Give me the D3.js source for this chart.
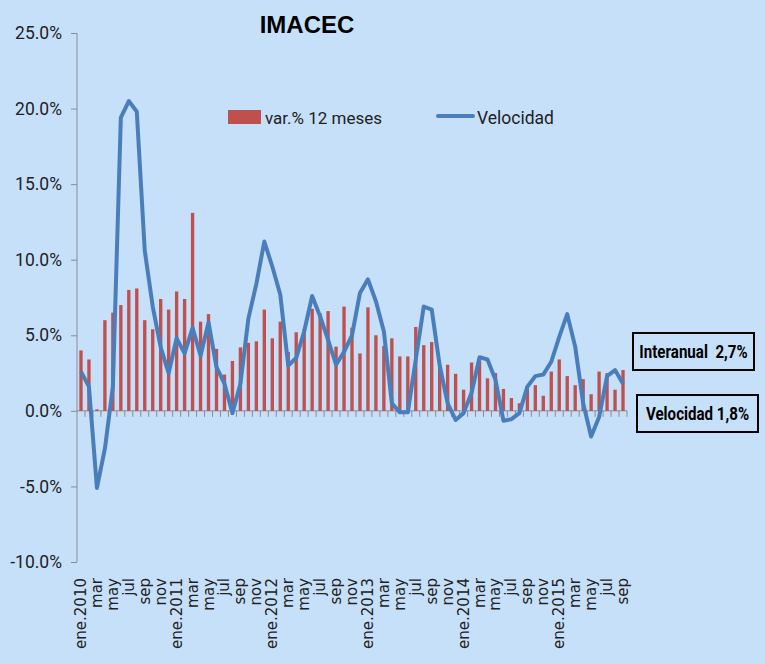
<!DOCTYPE html>
<html>
<head>
<meta charset="utf-8">
<script src="https://cdn.jsdelivr.net/npm/d3@7"></script>
<style>
  body { margin: 0; background: #c6e0fa; }
  .narrow { font-family: Roboto, 'Liberation Sans', sans-serif; }
  .pre { white-space: pre; }
</style>
</head>
<body>
<div id="chart"></div>
<script>
const monthNames = ['ene', 'feb', 'mar', 'abr', 'may', 'jun', 'jul', 'ago', 'sep', 'oct', 'nov', 'dic'];
const years = [2010, 2011, 2012, 2013, 2014, 2015];
const lastMonths = 9; // 2015 ends in sep

// var.% 12 meses
const varAnual = [
  4.0, 3.4, 0.1, 6.0, 6.5, 7.0, 8.0, 8.1, 6.0, 5.4, 7.4, 6.7,
  7.9, 7.4, 13.1, 5.9, 6.4, 4.1, 2.4, 3.3, 4.2, 4.5, 4.6, 6.7,
  4.8, 5.9, 3.9, 5.2, 5.4, 6.75, 6.45, 6.6, 4.25, 6.9, 5.5, 3.8,
  6.85, 5.0, 4.3, 4.8, 3.6, 3.6, 5.55, 4.35, 4.55, 2.85, 3.05, 2.45,
  1.4, 3.2, 3.35, 2.15, 2.5, 1.45, 0.85, 0.5, 1.45, 1.7, 1.0, 2.6,
  3.4, 2.3, 1.7, 2.1, 1.1, 2.6, 2.5, 1.4, 2.7
];

// Velocidad
const velocidad = [
  2.6, 1.6, -5.1, -2.5, 1.6, 19.4, 20.5, 19.8, 10.6, 6.9, 4.2, 2.5,
  4.8, 3.8, 5.5, 3.65, 5.85, 2.9, 1.8, -0.15, 1.8, 6.1, 8.4, 11.2,
  9.55, 7.7, 3.0, 3.5, 5.25, 7.6, 6.25, 4.7, 3.05, 3.9, 5.0, 7.8,
  8.7, 7.25, 5.25, 0.5, -0.1, -0.1, 3.4, 6.9, 6.7, 3.0, 0.5, -0.6,
  -0.15, 1.2, 3.55, 3.4, 2.05, -0.65, -0.55, -0.15, 1.6, 2.3, 2.4, 3.25,
  4.9, 6.4, 4.25, 0.5, -1.7, -0.4, 2.3, 2.7, 1.8
];

const yTicks = [-10, -5, 0, 5, 10, 15, 20, 25];
const boxTexts = ['Interanual  2,7%', 'Velocidad 1,8%'];

const categories = [];
years.forEach(function (yr, k) {
  const n = k === years.length - 1 ? lastMonths : 12;
  for (let m = 0; m < n; m++) {
    categories.push({ key: `${monthNames[m]}.${yr}`, month: m, year: yr });
  }
});

function tickLabel(c) {
  return c.month === 0 ? `ene.${c.year}` : monthNames[c.month];
}

const W = 765;
const H = 664;
const margin = { left: 77, right: 138, top: 33, bottom: 102 };

const svg = d3
  .select('#chart')
  .append('svg')
  .attr('width', W)
  .attr('height', H)
  .style('display', 'block');

svg.append('rect').attr('width', W).attr('height', H).attr('fill', '#c6e0fa');

const x = d3
  .scaleBand()
  .domain(categories.map(function (d) { return d.key; }))
  .range([margin.left, W - margin.right]);

const y = d3.scaleLinear().domain([-10, 25]).range([H - margin.bottom, margin.top]);

const axisColor = '#8c8c8c';

// y axis
const yAxis = svg
  .append('g')
  .attr('transform', `translate(${margin.left},0)`)
  .call(
    d3
      .axisLeft(y)
      .tickValues(yTicks)
      .tickSize(6)
      .tickSizeOuter(0)
      .tickPadding(9)
      .tickFormat(function (d) { return d.toFixed(1) + '%'; })
  );
yAxis.selectAll('path, line').attr('stroke', axisColor);
yAxis
  .selectAll('text')
  .attr('class', 'narrow')
  .attr('font-size', 17.5)
  .attr('fill', '#222');
yAxis.select('.domain').attr('d', `M0,${y(25)}V${y(-10)}`);

// x axis at zero, ticks on category boundaries
const y0 = y(0);
const xg = svg.append('g');
xg.append('line')
  .attr('x1', x.range()[0])
  .attr('x2', x.range()[1])
  .attr('y1', y0)
  .attr('y2', y0)
  .attr('stroke', axisColor)
  .attr('stroke-width', 1);
xg.selectAll('.xtick')
  .data(categories)
  .enter()
  .append('line')
  .attr('class', 'xtick')
  .attr('x1', function (d) { return x(d.key) + x.bandwidth(); })
  .attr('x2', function (d) { return x(d.key) + x.bandwidth(); })
  .attr('y1', y0)
  .attr('y2', y0 + 6)
  .attr('stroke', axisColor);

// bars
const barW = x.bandwidth() * 0.42;
svg
  .append('g')
  .selectAll('rect')
  .data(varAnual)
  .enter()
  .append('rect')
  .attr('x', function (d, i) { return x(categories[i].key) + (x.bandwidth() - barW) / 2; })
  .attr('y', function (d) { return y(Math.max(d, 0)); })
  .attr('width', barW)
  .attr('height', function (d) { return Math.abs(y(d) - y0); })
  .attr('fill', '#c0504d');

// velocidad line
const line = d3
  .line()
  .x(function (d, i) { return x(categories[i].key) + x.bandwidth() / 2; })
  .y(function (d) { return y(d); });

svg
  .append('path')
  .datum(velocidad)
  .attr('fill', 'none')
  .attr('stroke', '#4a7ebb')
  .attr('stroke-width', 4)
  .attr('stroke-linejoin', 'round')
  .attr('d', line);

// x labels, every second month
svg
  .append('g')
  .selectAll('text')
  .data(categories.filter(function (d, i) { return i % 2 === 0; }))
  .enter()
  .append('text')
  .attr('transform', function (d) {
    return `translate(${x(d.key) + x.bandwidth() / 2 + 5},${y(-10) + 16}) rotate(-90)`;
  })
  .attr('text-anchor', 'end')
  .attr('font-family', 'DejaVu Sans, sans-serif')
  .attr('font-size', 15)
  .attr('fill', '#222')
  .text(tickLabel);

// title
svg
  .append('text')
  .attr('x', 307)
  .attr('y', 33)
  .attr('text-anchor', 'middle')
  .attr('font-family', 'Liberation Sans, Arial, sans-serif')
  .attr('font-weight', 'bold')
  .attr('font-size', 24)
  .attr('fill', '#000')
  .text('IMACEC');

// legend
const legend = svg.append('g').attr('class', 'narrow');
legend.append('rect').attr('x', 228).attr('y', 110).attr('width', 33).attr('height', 14).attr('fill', '#c0504d');
legend.append('text').attr('x', 265).attr('y', 124).attr('font-size', 17).attr('fill', '#222').text('var.% 12 meses');
legend.append('line').attr('x1', 438).attr('x2', 473).attr('y1', 116).attr('y2', 116)
  .attr('stroke', '#4a7ebb').attr('stroke-width', 4).attr('stroke-linecap', 'round');
legend.append('text').attr('x', 477).attr('y', 124).attr('font-size', 17.5).attr('fill', '#222').text('Velocidad');

// value boxes
const boxes = [
  { x: 633, y: 333, w: 121, h: 37 },
  { x: 637, y: 395, w: 121, h: 37 }
];
boxes.forEach(function (b, i) {
  svg.append('rect')
    .attr('x', b.x).attr('y', b.y).attr('width', b.w).attr('height', b.h)
    .attr('fill', 'none').attr('stroke', '#000').attr('stroke-width', 2);
  svg.append('text')
    .attr('class', 'narrow pre')
    .attr('transform', `translate(${b.x + b.w / 2},${b.y + b.h / 2 + 6.5}) scale(0.84,1)`)
    .attr('text-anchor', 'middle')
    .attr('font-size', 18)
    .attr('font-weight', 'bold')
    .attr('fill', '#000')
    .text(boxTexts[i]);
});
</script>
</body>
</html>
